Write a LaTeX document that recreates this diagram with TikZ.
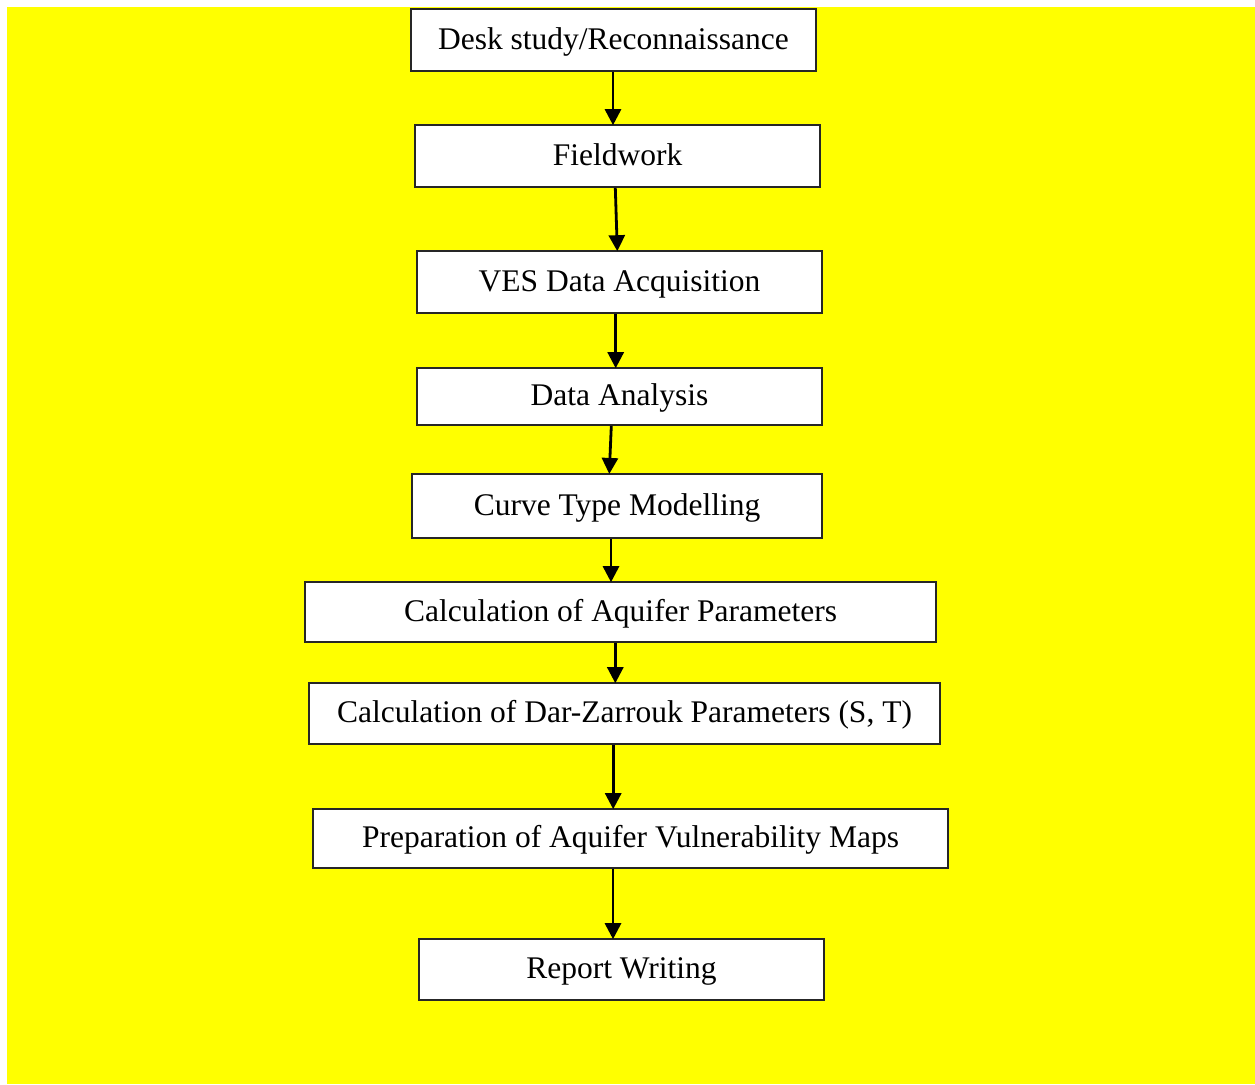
\documentclass[tikz,border=0pt]{standalone}
\usepackage{fontspec}
\setmainfont{Liberation Serif}
\usetikzlibrary{arrows.meta}
\definecolor{bgyellow}{RGB}{255,255,0}
\begin{document}
\begin{tikzpicture}[x=1pt,y=-1pt,
  stepbox/.style={draw=black!85, line width=1.6pt, fill=white, inner sep=0pt,
    font=\fontsize{31.5}{36}\selectfont, text height=24pt, text depth=6pt},
  arr/.style={line width=2.8pt, -{Triangle[length=16pt,width=16pt]}, shorten >=-1pt}]
\fill[white] (0,0) rectangle (1255,1084);
\fill[bgyellow] (7,7) rectangle (1255,1084);
\node[stepbox, minimum width=405pt, minimum height=62pt] (n1) at (613.5,40) {Desk study/Reconnaissance};
\node[stepbox, minimum width=405pt, minimum height=62pt] (n2) at (617.5,156) {Fieldwork};
\node[stepbox, minimum width=405pt, minimum height=62pt] (n3) at (619.5,282) {VES Data Acquisition};
\node[stepbox, minimum width=405pt, minimum height=57pt] (n4) at (619.5,396.5) {Data Analysis};
\node[stepbox, minimum width=410pt, minimum height=64.5pt] (n5) at (617,506) {Curve Type Modelling};
\node[stepbox, minimum width=631pt, minimum height=60pt] (n6) at (620.5,612) {Calculation of Aquifer Parameters};
\node[stepbox, minimum width=631pt, minimum height=61pt] (n7) at (624.5,713.5) {Calculation of Dar-Zarrouk Parameters (S, T)};
\node[stepbox, minimum width=635pt, minimum height=59pt] (n8) at (630.5,838.5) {Preparation of Aquifer Vulnerability Maps};
\node[stepbox, minimum width=405pt, minimum height=61pt] (n9) at (621.5,969.5) {Report Writing};
\draw[arr] ([xshift=-0.5pt]n1.south) -- ([xshift=-4.5pt]n2.north);
\draw[arr] ([xshift=-2.2pt]n2.south) -- ([xshift=-2.2pt]n3.north);
\draw[arr] ([xshift=-3.8pt]n3.south) -- ([xshift=-3.8pt]n4.north);
\draw[arr] ([xshift=-8.2pt]n4.south) -- ([xshift=-7.7pt]n5.north);
\draw[arr] ([xshift=-6pt]n5.south) -- ([xshift=-9.5pt]n6.north);
\draw[arr] ([xshift=-5.2pt]n6.south) -- ([xshift=-9.2pt]n7.north);
\draw[arr] ([xshift=-11.3pt]n7.south) -- ([xshift=-17.3pt]n8.north);
\draw[arr] ([xshift=-17.5pt]n8.south) -- ([xshift=-8.5pt]n9.north);
\end{tikzpicture}
\end{document}
